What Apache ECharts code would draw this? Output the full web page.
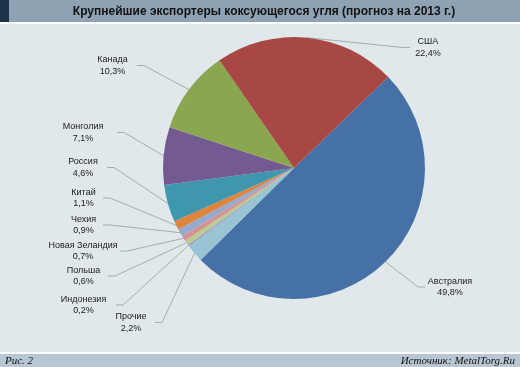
<!DOCTYPE html>
<html>
<head>
<meta charset="utf-8">
<script src="https://cdn.jsdelivr.net/npm/echarts@6/dist/echarts.min.js"></script>
<style>
html,body{margin:0;padding:0;background:#fff;}
#c{width:520px;height:367px;}
</style>
</head>
<body>
<div id="c"></div>
<script>
// ---- data ----
const countries = ['Австралия','Прочие','Индонезия','Польша','Новая Зеландия','Чехия','Китай','Россия','Монголия','Канада','США'];
const shares = [49.8, 2.2, 0.2, 0.6, 0.7, 0.9, 1.1, 4.6, 7.1, 10.3, 22.4];
const titleText = 'Крупнейшие экспортеры коксующегося угля (прогноз на 2013 г.)';
const figText = 'Рис. 2';
const sourceText = 'Источник: MetalTorg.Ru';

// ---- styles / layout ----
const sliceColors = ['#4571a6','#98c4d3','#a597c1','#b8cc93','#d39593','#94aad0','#dd853c','#3f97ae','#735a91','#8aa64f','#a84845'];
// label centre x, centre y, x where the leader line meets the label
const labelSpots = [
  [450, 287, 425],
  [131, 322.5, 155],
  [83.5, 305, 116],
  [83.5, 276, 108],
  [83, 251, 120],
  [83.5, 225, 103],
  [83.5, 198, 103],
  [83, 167.5, 107],
  [83, 132.5, 117],
  [112.5, 65.5, 137],
  [428, 47.5, 410]
];

const chart = echarts.init(document.getElementById('c'), null, {renderer:'canvas'});
const fmt = v => v.toFixed(1).replace('.', ',') + '%';

chart.setOption({
  animation: false,
  backgroundColor: '#ffffff',
  graphic: [
    {type:'rect', z:-10, shape:{x:0,y:0,width:520,height:22}, style:{fill:'#8fa2b4'}},
    {type:'rect', z:-9, shape:{x:0,y:0,width:9,height:22}, style:{fill:'#1e3349'}},
    {type:'rect', z:-10, shape:{x:0,y:24,width:520,height:328}, style:{fill:'#e1e8eb'}},
    {type:'rect', z:-10, shape:{x:0,y:354,width:520,height:13}, style:{fill:'#b7c6d2'}},
    {type:'text', x:264, y:11.5, style:{text:titleText, fill:'#111', font:'bold 12px "Liberation Sans", Arial, sans-serif', textAlign:'center', textVerticalAlign:'middle'}},
    {type:'text', x:5, y:361, style:{text:figText, fill:'#111', font:'italic 11px "Liberation Serif", "Times New Roman", serif', textAlign:'left', textVerticalAlign:'middle'}},
    {type:'text', x:515, y:361, style:{text:sourceText, fill:'#111', font:'italic 11px "Liberation Serif", "Times New Roman", serif', textAlign:'right', textVerticalAlign:'middle'}}
  ],
  series: [{
    type: 'pie',
    center: [294, 168],
    radius: 131,
    startAngle: 44,
    clockwise: true,
    avoidLabelOverlap: false,
    data: countries.map((n, i) => ({name: n, value: shares[i], itemStyle: {color: sliceColors[i]}})),
    itemStyle: {borderWidth: 0},
    label: {
      show: true,
      position: 'outside',
      formatter: p => p.name + '\n' + fmt(p.value),
      fontFamily: '"Liberation Sans", Arial, sans-serif',
      fontSize: 9,
      lineHeight: 11.5,
      color: '#1a1a1a',
      align: 'center'
    },
    labelLine: {show: true, length: 10, length2: 10, lineStyle: {color: '#9a9a9a', width: 0.8}},
    labelLayout: function (p) {
      const s = labelSpots[p.dataIndex];
      const dir = s[2] > s[0] ? 1 : -1;
      const pts = p.labelLinePoints;
      const res = {x: s[0], y: s[1], align: 'center', verticalAlign: 'middle'};
      if (pts) {
        res.labelLinePoints = [pts[0], [s[2] + dir * 7, s[1]], [s[2], s[1]]];
      }
      return res;
    },
    emphasis: {disabled: true}
  }]
});
</script>
</body>
</html>
